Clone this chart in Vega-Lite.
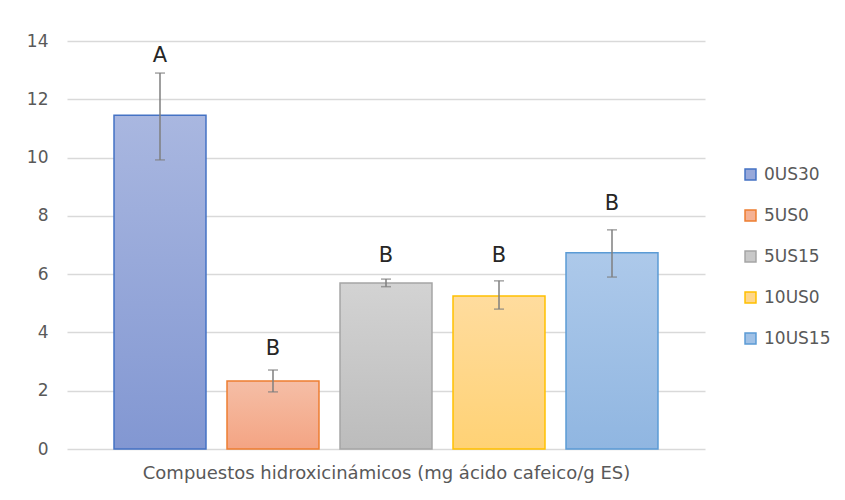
{
  "$schema": "https://vega.github.io/schema/vega-lite/v6.json",
  "autosize": {"type": "none"},
  "width": 638,
  "height": 408,
  "padding": {"left": 67, "top": 41, "right": 140, "bottom": 51},
  "background": "white",
  "config": {
    "font": "DejaVu Sans",
    "view": {"stroke": null}
  },
  "data": {
    "values": [
      {"serie": "0US30", "valor": 11.45, "err_lo": 9.92, "err_hi": 12.9, "letra": "A", "letra_y": 13.5},
      {"serie": "5US0", "valor": 2.33, "err_lo": 1.96, "err_hi": 2.71, "letra": "B", "letra_y": 3.43},
      {"serie": "5US15", "valor": 5.7, "err_lo": 5.57, "err_hi": 5.83, "letra": "B", "letra_y": 6.62},
      {"serie": "10US0", "valor": 5.25, "err_lo": 4.8, "err_hi": 5.77, "letra": "B", "letra_y": 6.62},
      {"serie": "10US15", "valor": 6.73, "err_lo": 5.9, "err_hi": 7.52, "letra": "B", "letra_y": 8.41}
    ]
  },
  "encoding": {
    "x": {
      "field": "serie",
      "type": "nominal",
      "sort": null,
      "scale": {"paddingInner": 0.186, "paddingOuter": 0.416},
      "axis": {
        "title": "Compuestos hidroxicinámicos (mg ácido cafeico/g ES)",
        "labels": false,
        "ticks": false,
        "domain": false,
        "titleFont": "DejaVu Sans",
        "titleFontSize": 18,
        "titleFontWeight": "normal",
        "titleColor": "#595959",
        "titlePadding": 15
      }
    }
  },
  "layer": [
    {
      "mark": {"type": "bar", "strokeWidth": 1.5},
      "encoding": {
        "y": {
          "field": "valor",
          "type": "quantitative",
          "scale": {"domain": [0, 14], "nice": false},
          "axis": {
            "title": null,
            "values": [0, 2, 4, 6, 8, 10, 12, 14],
            "domain": false,
            "ticks": false,
            "labelPadding": 19,
            "labelFontSize": 17,
            "labelColor": "#595959",
            "gridColor": "#d9d9d9",
            "gridWidth": 1.5
          }
        },
        "fill": {
          "field": "serie",
          "type": "nominal",
          "sort": null,
          "condition": [
            {"test": "datum.serie === '0US30'", "value": {"gradient": "linear", "x1": 0, "y1": 0, "x2": 0, "y2": 1, "stops": [{"offset": 0, "color": "#a9b7e0"}, {"offset": 1, "color": "#8297d2"}]}},
            {"test": "datum.serie === '5US0'", "value": {"gradient": "linear", "x1": 0, "y1": 0, "x2": 0, "y2": 1, "stops": [{"offset": 0, "color": "#f5bea6"}, {"offset": 1, "color": "#f4a483"}]}},
            {"test": "datum.serie === '5US15'", "value": {"gradient": "linear", "x1": 0, "y1": 0, "x2": 0, "y2": 1, "stops": [{"offset": 0, "color": "#d3d3d3"}, {"offset": 1, "color": "#bcbcbc"}]}},
            {"test": "datum.serie === '10US0'", "value": {"gradient": "linear", "x1": 0, "y1": 0, "x2": 0, "y2": 1, "stops": [{"offset": 0, "color": "#ffdc9e"}, {"offset": 1, "color": "#ffd275"}]}},
            {"test": "datum.serie === '10US15'", "value": {"gradient": "linear", "x1": 0, "y1": 0, "x2": 0, "y2": 1, "stops": [{"offset": 0, "color": "#adc9ea"}, {"offset": 1, "color": "#90b6e1"}]}}
          ],
          "scale": {
            "domain": ["0US30", "5US0", "5US15", "10US0", "10US15"],
            "range": ["#97a8da", "#f5b193", "#c8c8c8", "#ffd78b", "#a0c1e6"]
          },
          "legend": {
            "title": null,
            "orient": "none",
            "legendX": 675,
            "legendY": 125,
            "symbolType": "square",
            "symbolSize": 120,
            "symbolStrokeWidth": 1.5,
            "labelFontSize": 17,
            "labelColor": "#595959",
            "labelOffset": 5,
            "rowPadding": 23
          }
        },
        "stroke": {
          "field": "serie",
          "type": "nominal",
          "sort": null,
          "scale": {
            "domain": ["0US30", "5US0", "5US15", "10US0", "10US15"],
            "range": ["#4472c4", "#ed7d31", "#a5a5a5", "#ffc000", "#5b9bd5"]
          },
          "legend": {
            "title": null,
            "orient": "none",
            "legendX": 675,
            "legendY": 125,
            "symbolType": "square",
            "symbolSize": 120,
            "symbolStrokeWidth": 1.5,
            "labelFontSize": 17,
            "labelColor": "#595959",
            "labelOffset": 5,
            "rowPadding": 23
          }
        }
      }
    },
    {
      "mark": {"type": "rule", "color": "#7f7f7f", "strokeWidth": 1.5},
      "encoding": {
        "y": {"field": "err_lo", "type": "quantitative"},
        "y2": {"field": "err_hi"}
      }
    },
    {
      "mark": {"type": "tick", "color": "#7f7f7f", "size": 10, "thickness": 1.5},
      "encoding": {
        "y": {"field": "err_lo", "type": "quantitative"}
      }
    },
    {
      "mark": {"type": "tick", "color": "#7f7f7f", "size": 10, "thickness": 1.5},
      "encoding": {
        "y": {"field": "err_hi", "type": "quantitative"}
      }
    },
    {
      "mark": {"type": "text", "font": "DejaVu Sans", "fontSize": 21, "color": "#262626", "baseline": "middle", "align": "center"},
      "encoding": {
        "y": {"field": "letra_y", "type": "quantitative"},
        "text": {"field": "letra"}
      }
    }
  ]
}
